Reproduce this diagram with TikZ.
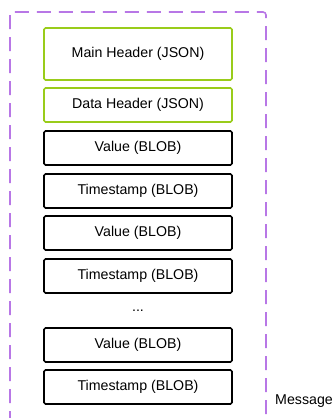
\documentclass[tikz,border=0pt]{standalone}
\usepackage{fontspec}
\setmainfont{Liberation Sans}
\usepackage{tikz}
\usetikzlibrary{positioning}
\definecolor{headgreen}{HTML}{99CC1A}
\definecolor{framepurple}{HTML}{B877E6}

\begin{document}
\begin{tikzpicture}[x=1pt,y=-1pt,node distance=8pt,
                    field/.style={draw,rounded corners=1.5pt,line width=1.6pt,minimum width=188pt,
                                  minimum height=34pt,inner sep=0pt,outer sep=0pt,
                                  font=\fontsize{14.2}{16}\selectfont},
                    header/.style={field,draw=headgreen},
                    frame/.style={draw=framepurple,line width=1.6pt,dash pattern=on 14pt off 8pt,rounded corners=3pt}]
  \useasboundingbox (0,0) rectangle (332,418);
  \clip (0,0) rectangle (332,418);

  \node[header,minimum height=52pt] (main) at (138,54) {Main Header (JSON)};
  \node[header] (data) [below=of main] {Data Header (JSON)};
  \node[field] (val1) [below=9pt of data] {Value (BLOB)};
  \node[field] (ts1) [below=9pt of val1] {Timestamp (BLOB)};
  \node[field] (val2) [below=of ts1] {Value (BLOB)};
  \node[field] (ts2) [below=9pt of val2] {Timestamp (BLOB)};
  \node[inner sep=0pt,outer sep=0pt,minimum height=35pt,font=\fontsize{14.2}{16}\selectfont] (dots) [below=0pt of ts2] {...};
  \node[field] (val3) [below=0pt of dots] {Value (BLOB)};
  \node[field] (ts3) [below=of val3] {Timestamp (BLOB)};

  \coordinate (frametop) at (10,12);
  \coordinate (framebot) at (266,440);
  \draw[frame] (frametop) rectangle (framebot);
  \node[anchor=west,inner sep=0pt,font=\fontsize{14.2}{16}\selectfont] (msg) at (275,401) {Message};
\end{tikzpicture}
\end{document}
